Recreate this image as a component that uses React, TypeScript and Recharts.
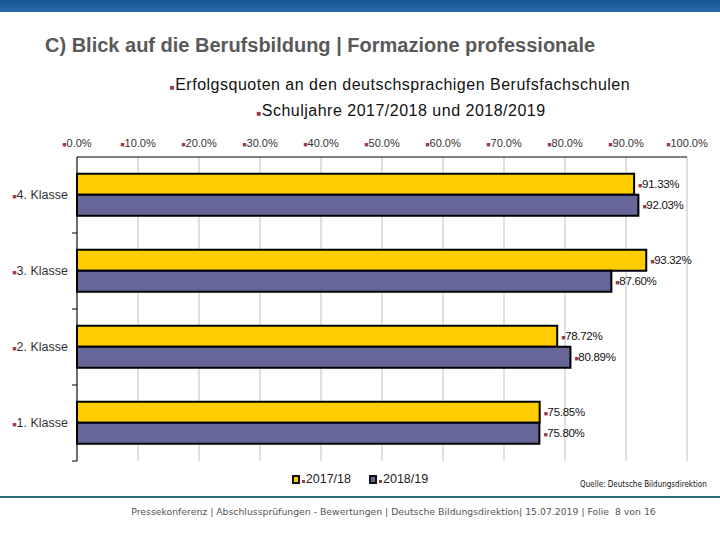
import {
  BarChart,
  Bar,
  XAxis,
  YAxis,
  CartesianGrid,
  Legend,
  LabelList,
} from "recharts";

const categories = ["4. Klasse", "3. Klasse", "2. Klasse", "1. Klasse"];
const quote2017 = [91.33, 93.32, 78.72, 75.85];
const quote2018 = [92.03, 87.6, 80.89, 75.8];
const percentTicks = [0, 10, 20, 30, 40, 50, 60, 70, 80, 90, 100];

const data = categories.map((name, i) => ({
  name,
  y2017: quote2017[i],
  y2018: quote2018[i],
}));

const FONT = "'Liberation Sans', Arial, sans-serif";
const BULLET = "#9b3b4a";
const YELLOW = "#FFCC00";
const PURPLE = "#666699";

const W = 720;
const H = 540;
const MARGIN = { top: 127, right: 33, bottom: 79, left: 0 };
const AXIS_W = 77;
const TOP_AXIS_H = 30;
const HALF_BAND =
  (H - MARGIN.top - TOP_AXIS_H - MARGIN.bottom) / categories.length / 2;

function TopTick(props: any) {
  const { x, y, payload } = props;
  return (
    <text x={x} y={y - 2} textAnchor="middle" fontSize={11} fill="#333" fontFamily={FONT}>
      <tspan fill={BULLET} fontSize={7}>■</tspan>
      {`${Number(payload.value).toFixed(1)}%`}
    </text>
  );
}

function LeftTick(props: any) {
  const { y, payload } = props;
  return (
    <g>
      <text x={68} y={y} dy={4} textAnchor="end" fontSize={12.5} fill="#333" fontFamily={FONT}>
        <tspan fill={BULLET} fontSize={7}>■</tspan>
        {payload.value}
      </text>
      <line x1={AXIS_W - 5} x2={AXIS_W} y1={y + HALF_BAND} y2={y + HALF_BAND} stroke="#000" />
    </g>
  );
}

function ValueLabel(props: any) {
  const { x, y, width, height, value } = props;
  return (
    <text
      x={x + width + 4}
      y={y + height / 2}
      dy={4}
      fontSize={11.5}
      fill="#111"
      fontFamily={FONT}
      letterSpacing={-0.3}
    >
      <tspan fill={BULLET} fontSize={7}>■</tspan>
      {`${Number(value).toFixed(2)}%`}
    </text>
  );
}

function LegendContent() {
  const items = [
    { label: "2017/18", color: YELLOW },
    { label: "2018/19", color: PURPLE },
  ];
  return (
    <div style={{ display: "flex", justifyContent: "center", gap: 18, fontFamily: FONT, fontSize: 12.5, color: "#222" }}>
      {items.map((it) => (
        <span key={it.label} style={{ display: "flex", alignItems: "center" }}>
          <span style={{ width: 4, height: 5, background: it.color, border: "2px solid #111", display: "inline-block" }} />
          <span style={{ width: 3, height: 3, background: BULLET, display: "inline-block", margin: "4px 1px 0 2px" }} />
          {it.label}
        </span>
      ))}
    </div>
  );
}

export default function App() {
  return (
    <div style={{ position: "absolute", left: 0, top: 0, width: W, height: H, background: "#fff", overflow: "hidden" }}>
      <div style={{ position: "absolute", left: 0, top: 0, width: W, height: 12, background: "linear-gradient(#1a5693, #2a6aa8)" }} />
      <div style={{ position: "absolute", left: 45, top: 34, fontFamily: FONT, fontWeight: "bold", fontSize: 20, color: "#595959", whiteSpace: "nowrap" }}>
        C) Blick auf die Berufsbildung | Formazione professionale
      </div>
      <div style={{ position: "absolute", left: 0, width: 800, top: 76, textAlign: "center", fontFamily: FONT, fontSize: 16, letterSpacing: 0.5, color: "#111" }}>
        <span style={{ color: BULLET, fontSize: 8 }}>■</span>Erfolgsquoten an den deutschsprachigen Berufsfachschulen
      </div>
      <div style={{ position: "absolute", left: 0, width: 802, top: 102, textAlign: "center", fontFamily: FONT, fontSize: 16, letterSpacing: 0.5, color: "#111" }}>
        <span style={{ color: BULLET, fontSize: 8 }}>■</span>Schuljahre 2017/2018 und 2018/2019
      </div>

      <div style={{ position: "absolute", left: 0, top: 0 }}>
        <BarChart
          width={W}
          height={H}
          data={data}
          layout="vertical"
          margin={MARGIN}
          barCategoryGap="22%"
          barGap={0}
        >
          <CartesianGrid horizontal={false} stroke="#c0c0c0" />
          <XAxis
            type="number"
            orientation="top"
            domain={[0, 100]}
            ticks={percentTicks}
            height={TOP_AXIS_H}
            axisLine={{ stroke: "#000" }}
            tickLine={false}
            tick={<TopTick />}
          />
          <YAxis
            type="category"
            dataKey="name"
            width={AXIS_W}
            axisLine={{ stroke: "#000" }}
            tickLine={false}
            tick={<LeftTick />}
          />
          <Legend
            layout="vertical"
            align="center"
            verticalAlign="middle"
            wrapperStyle={{ top: 472, left: 0, width: W }}
            content={<LegendContent />}
          />
          <Bar dataKey="y2017" name="2017/18" fill={YELLOW} stroke="#000" strokeWidth={2} isAnimationActive={false}>
            <LabelList dataKey="y2017" content={<ValueLabel />} />
          </Bar>
          <Bar dataKey="y2018" name="2018/19" fill={PURPLE} stroke="#000" strokeWidth={2} isAnimationActive={false}>
            <LabelList dataKey="y2018" content={<ValueLabel />} />
          </Bar>
        </BarChart>
      </div>

      <div style={{ position: "absolute", left: 580, top: 480, fontFamily: "'DejaVu Sans Condensed', 'DejaVu Sans', sans-serif", fontSize: 8, color: "#111", whiteSpace: "nowrap" }}>
        Quelle: Deutsche Bildungsdirektion
      </div>
      <div style={{ position: "absolute", left: 0, top: 496, width: W, height: 2, background: "#2c6f7c" }} />
      <div style={{ position: "absolute", left: 0, width: 787, top: 506, textAlign: "center", fontFamily: "'DejaVu Sans', sans-serif", fontSize: 9.3, color: "#555", whiteSpace: "nowrap" }}>
        Pressekonferenz | Abschlussprüfungen - Bewertungen | Deutsche Bildungsdirektion| 15.07.2019 | Folie&nbsp; 8 von 16
      </div>
    </div>
  );
}
